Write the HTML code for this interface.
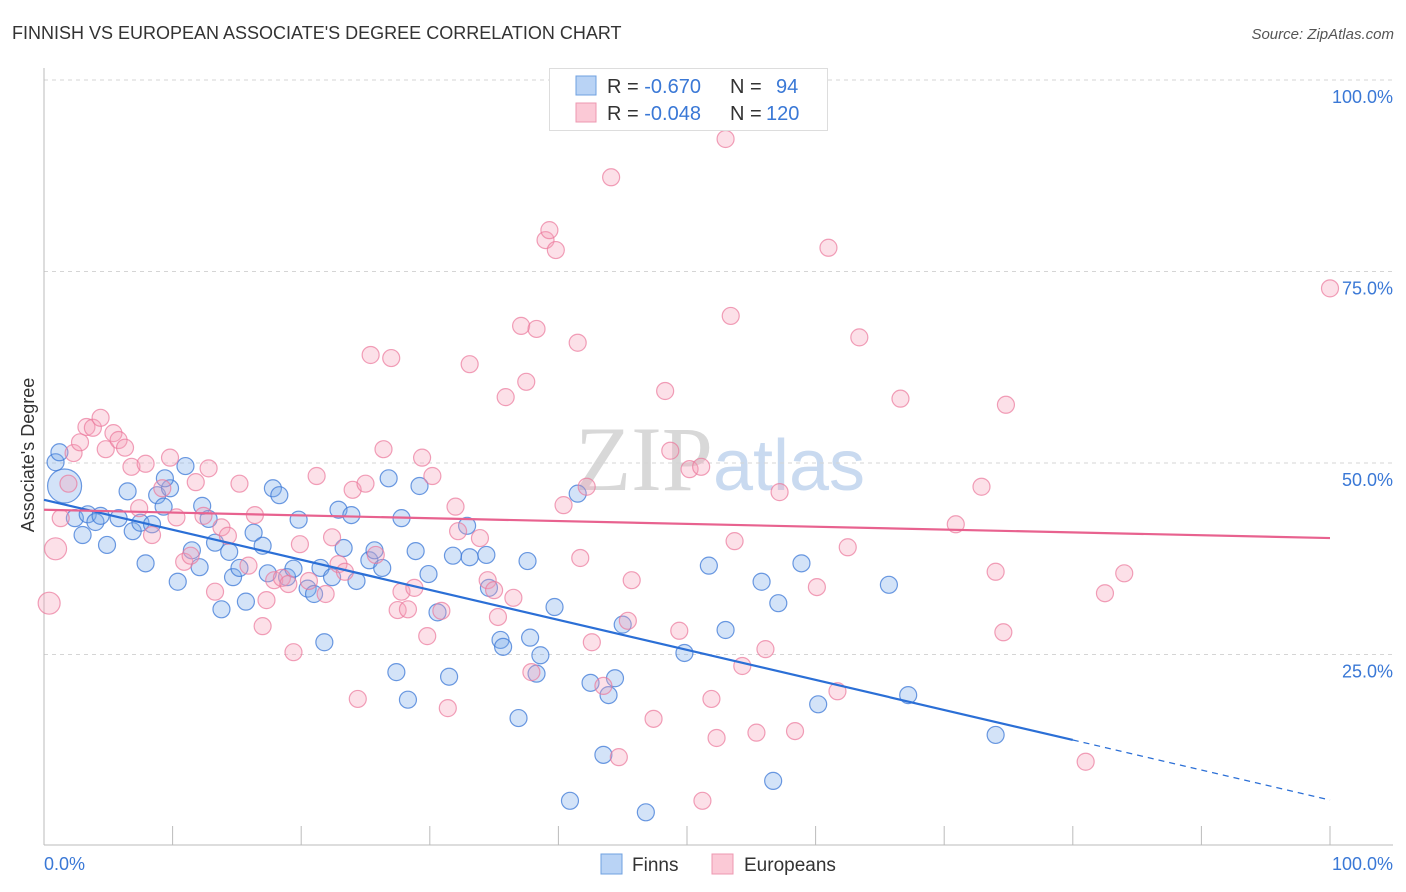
<!DOCTYPE html>
<html><head><meta charset="utf-8"><style>
body{margin:0;background:#fff;font-family:"Liberation Sans",sans-serif;}
svg{display:block}
</style></head><body>
<svg id="chart" width="1406" height="892" xmlns="http://www.w3.org/2000/svg">
<text x="12" y="39" font-size="18" fill="#333">FINNISH VS EUROPEAN ASSOCIATE'S DEGREE CORRELATION CHART</text>
<text x="1394" y="39" font-size="15" fill="#555" text-anchor="end" font-style="italic">Source: ZipAtlas.com</text>
<text x="720" y="490" font-size="92" fill="#d8d8d8" text-anchor="middle" font-family="Liberation Serif,serif">ZIP<tspan fill="#c9daf0" font-family="Liberation Sans,sans-serif" font-size="72">atlas</tspan></text>
<g id="grid"></g>
<g id="axes"></g>
<g id="pts"></g>
<g id="lines"></g>
<text transform="translate(34,455) rotate(-90)" font-size="18" fill="#333" text-anchor="middle">Associate's Degree</text>
<g>
<rect x="549.5" y="68.5" width="278" height="62" fill="#fff" stroke="#ddd"/>
<rect x="576" y="76" width="20" height="19" fill="#b9d3f5" stroke="#6fa0e0"/>
<rect x="576" y="103" width="20" height="19" fill="#fbc9d6" stroke="#ee98b0"/>
<text x="607" y="93" font-size="20" fill="#333">R = <tspan fill="#3a78d6">-0.670</tspan><tspan x="730">N =</tspan><tspan x="776" fill="#3a78d6">94</tspan></text>
<text x="607" y="120" font-size="20" fill="#333">R = <tspan fill="#3a78d6">-0.048</tspan><tspan x="730">N =</tspan><tspan x="766" fill="#3a78d6">120</tspan></text>
</g>
<g>
<rect x="601" y="854" width="21" height="20" fill="#b9d3f5" stroke="#6fa0e0"/>
<text x="632" y="871" font-size="19" fill="#333">Finns</text>
<rect x="712" y="854" width="21" height="20" fill="#fbc9d6" stroke="#ee98b0"/>
<text x="744" y="871" font-size="19" fill="#333">Europeans</text>
</g>
</svg>
<script>
const yTicks=[100,75,50,25];
const yTickLabels=["100.0%","75.0%","50.0%","25.0%"];
const xTicks=[0,10,20,30,40,50,60,70,80,90,100];
const finnsX=[0.9,1.2,1.6,2.4,3.0,3.4,4.0,4.4,4.9,5.8,6.5,6.9,7.5,7.9,8.4,8.8,9.3,9.8,10.4,11.0,11.5,12.1,12.3,12.8,13.3,13.8,14.4,14.7,15.2,15.7,16.3,17.0,17.4,17.8,18.3,18.9,19.4,19.8,20.5,21.0,21.5,21.8,22.4,22.9,23.3,23.9,24.3,25.3,25.7,26.3,26.8,27.4,27.8,28.3,28.9,29.2,29.9,30.6,31.5,31.8,32.9,33.1,34.4,34.6,35.5,35.7,36.9,37.6,37.8,38.3,38.6,39.7,40.9,41.5,42.5,43.5,43.9,44.4,45.0,46.8,49.8,51.7,53.0,55.8,56.7,57.1,58.9,60.2,65.7,67.2,74.0,9.4];
const finnsY=[50.1,51.4,47.0,42.8,40.6,43.3,42.3,43.1,39.3,42.8,46.3,41.1,42.2,36.9,42.0,45.8,44.3,46.7,34.5,49.6,38.6,36.4,44.4,42.7,39.6,30.9,38.4,35.1,36.3,31.9,40.9,39.2,35.6,46.7,45.8,35.1,36.2,42.6,33.6,32.9,36.3,26.6,35.1,43.9,38.9,43.2,34.6,37.3,38.6,36.3,48.0,22.7,42.8,19.1,38.5,47.0,35.5,30.5,22.1,37.9,41.8,37.7,38.0,33.7,26.9,26.0,16.7,37.2,27.2,22.5,24.9,31.2,5.9,46.0,21.3,11.9,19.7,21.9,28.9,4.4,25.2,36.6,28.2,34.5,8.5,31.7,36.9,18.5,34.1,19.7,14.5,48.0];
const eurX=[0.4,0.9,1.3,1.9,2.3,2.8,3.3,3.8,4.4,4.8,5.4,5.8,6.3,6.8,7.4,7.9,8.4,9.2,9.8,10.3,10.9,11.4,11.8,12.4,12.8,13.3,13.8,14.3,15.2,15.9,16.4,17.0,17.3,17.9,18.5,19.0,19.4,19.9,20.6,21.2,21.9,22.4,22.9,23.4,24.0,24.4,25.0,25.4,25.8,26.4,27.0,27.5,27.8,28.3,28.8,29.4,29.8,30.2,30.9,31.4,32.0,32.2,33.1,33.9,34.5,35.0,35.3,35.9,36.5,37.1,37.5,37.9,38.3,39.0,39.3,39.8,40.4,41.5,41.7,42.2,42.6,43.5,44.1,44.7,45.4,45.7,47.4,48.3,48.7,49.4,50.2,51.1,51.2,51.9,52.3,53.0,53.4,53.7,54.3,55.4,56.1,57.2,58.4,60.1,61.0,61.7,62.5,63.4,66.6,70.9,72.9,74.0,74.6,74.8,81.0,82.5,84.0,100];
const eurY=[31.7,38.8,42.8,47.3,51.3,52.7,54.7,54.6,55.9,51.8,53.9,53.0,52.0,49.5,44.1,49.9,40.6,46.7,50.7,42.9,37.1,37.9,47.5,43.1,49.3,33.2,41.6,40.5,47.3,36.6,43.2,28.7,32.1,34.7,35.0,34.2,25.3,39.4,34.6,48.3,32.9,40.3,36.8,35.8,46.5,19.2,47.3,64.1,38.0,51.8,63.7,30.8,33.2,30.9,33.7,50.7,27.4,48.3,30.7,18.0,44.3,41.1,62.9,40.2,34.7,33.4,29.9,58.6,32.4,67.9,60.6,22.7,67.5,79.1,80.4,77.8,44.5,65.7,37.6,46.9,26.6,20.9,87.3,11.6,29.4,34.7,16.6,59.4,51.6,28.1,49.2,49.5,5.9,19.2,14.1,92.3,69.2,39.8,23.5,14.8,25.7,46.2,15.0,33.8,78.1,20.2,39.0,66.4,58.4,42.0,46.9,35.8,27.9,57.6,11.0,33.0,35.6,72.8];
const finnsFit=[45.2,-0.392];
const eurFit=[43.9,-0.037];
const NS="http://www.w3.org/2000/svg";
const sx=v=>44+v*12.86, sy=v=>846-v*7.66;
function mk(tag,attrs,parent){const e=document.createElementNS(NS,tag);for(const k in attrs)e.setAttribute(k,attrs[k]);parent.appendChild(e);return e;}
const grid=document.getElementById('grid'),axes=document.getElementById('axes'),pts=document.getElementById('pts'),lines=document.getElementById('lines');
yTicks.forEach((t,i)=>{
 const l=mk('line',{x1:44,x2:1393,y1:sy(t),y2:sy(t),stroke:'#d5d5d5','stroke-dasharray':'4 4'},grid);
 
 
 const tx=mk('text',{x:1393,y:sy(t)+23,'font-size':18,fill:'#3a78d6','text-anchor':'end'},grid);
 tx.textContent=yTickLabels[i];
 
 
});
const xa=mk('line',{x1:44,x2:1393,y1:845,y2:845,stroke:'#bbb'},axes);


const ya=mk('line',{x1:44,x2:44,y1:68,y2:845,stroke:'#bbb'},axes);


xTicks.forEach(t=>{const l=mk('line',{x1:sx(t),x2:sx(t),y1:826,y2:845,stroke:'#bbb'},axes);
 
 });
const x0=mk('text',{x:44,y:870,'font-size':18,fill:'#3a78d6'},axes);x0.textContent='0.0%';


const x1=mk('text',{x:1393,y:870,'font-size':18,fill:'#3a78d6','text-anchor':'end'},axes);x1.textContent='100.0%';


finnsX.forEach((x,i)=>{const c=mk('circle',{cx:sx(x),cy:sy(finnsY[i]),r:i==2?17:8.5,fill:'rgba(120,170,235,0.33)',stroke:'rgba(60,120,215,0.75)','stroke-width':1.2},pts);
 
 });
eurX.forEach((x,i)=>{const c=mk('circle',{cx:sx(x),cy:sy(eurY[i]),r:i<2?11:8.5,fill:'rgba(245,160,185,0.33)',stroke:'rgba(235,120,155,0.7)','stroke-width':1.2},pts);
 
 });
const f=x=>finnsFit[0]+finnsFit[1]*x, e=x=>eurFit[0]+eurFit[1]*x;
const b1=mk('line',{x1:sx(0),y1:sy(f(0)),x2:sx(80),y2:sy(f(80)),stroke:'#2b6fd6','stroke-width':2.2},lines);


const b2=mk('line',{x1:sx(80),y1:sy(f(80)),x2:sx(100),y2:sy(f(100)),stroke:'#2b6fd6','stroke-width':1.2,'stroke-dasharray':'6 5'},lines);


const p1=mk('line',{x1:sx(0),y1:sy(e(0)),x2:sx(100),y2:sy(e(100)),stroke:'#e8628f','stroke-width':2.2},lines);


</script>
</body></html>
